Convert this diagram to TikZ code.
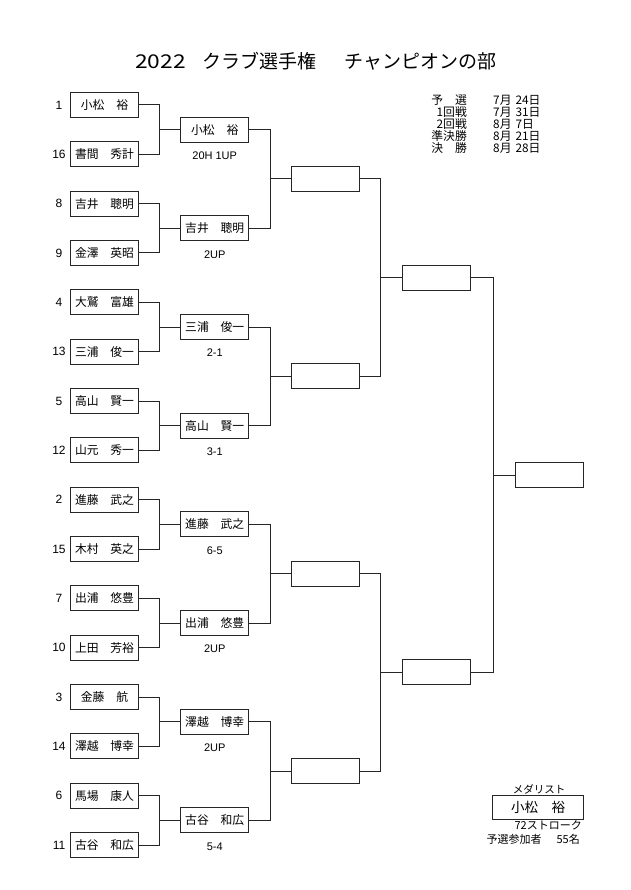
\documentclass[tikz,border=0pt]{standalone}
\usepackage{fontspec}
\setmainfont{Noto Sans CJK JP}
\newfontfamily\latf{Liberation Sans}
\usetikzlibrary{calc}
\begin{document}
\begin{tikzpicture}[x=1pt,y=-1pt,
  ln/.style={draw=black!85, line width=1pt},
  pbox/.style={draw=black!85, line width=1pt, minimum width=68pt, minimum height=25pt, inner sep=0pt, font=\fontsize{11.8}{12}\selectfont},
  score/.style={font=\latf\fontsize{11}{12}\selectfont, inner sep=0pt},
  seed/.style={font=\latf\fontsize{12}{13}\selectfont, inner sep=0pt},
  sched/.style={font=\fontsize{11.8}{12}\selectfont, inner sep=0pt},
  small/.style={font=\fontsize{11}{12}\selectfont, inner sep=0pt}]
\fill[white] (0,0) rectangle (630,890);
\useasboundingbox (0,0) rectangle (630,890);

% title
\node[inner sep=0pt, font=\fontsize{19}{20}\selectfont] (title) at (316,61)
  {\scalebox{1.2}[1]{2022}\hspace{17pt}クラブ選手権\hspace{28pt}チャンピオンの部};

% round 1
\foreach \i/\s/\nm in {0/1/小松　裕, 1/16/書間　秀計, 2/8/吉井　聰明, 3/9/金澤　英昭,
  4/4/大鷲　富雄, 5/13/三浦　俊一, 6/5/高山　賢一, 7/12/山元　秀一,
  8/2/進藤　武之, 9/15/木村　英之, 10/7/出浦　悠豊, 11/10/上田　芳裕,
  12/3/金藤　航, 13/14/澤越　博幸, 14/6/馬場　康人, 15/11/古谷　和広} {
  \pgfmathsetmacro\yy{105+\i*49.3333}
  \node[pbox] (a\i) at (104.5,\yy) {\nm};
  \node[seed] (n\i) at (59,\yy) {\s};
}

% round 2
\foreach \i/\nm/\sc in {0/小松　裕/20H 1UP, 1/吉井　聰明/2UP, 2/三浦　俊一/2-1, 3/高山　賢一/3-1,
  4/進藤　武之/6-5, 5/出浦　悠豊/2UP, 6/澤越　博幸/2UP, 7/古谷　和広/5-4} {
  \pgfmathsetmacro\yy{129.6667+\i*98.6667}
  \pgfmathtruncatemacro\p{2*\i}
  \pgfmathtruncatemacro\q{2*\i+1}
  \node[pbox] (b\i) at (214.7,\yy) {\nm};
  \node[score] (s\i) at ([yshift=-26pt]b\i.center) {\sc};
  \coordinate (jb\i) at (159,\yy);
  \draw[ln] (a\p.east) -| (jb\i) -- (b\i.west);
  \draw[ln] (a\q.east) -| (jb\i);
}

% round 3
\foreach \i in {0,...,3} {
  \pgfmathsetmacro\yy{179+\i*197.3333}
  \pgfmathtruncatemacro\p{2*\i}
  \pgfmathtruncatemacro\q{2*\i+1}
  \node[pbox] (c\i) at (325,\yy) {};
  \coordinate (jc\i) at (270,\yy);
  \draw[ln] (b\p.east) -| (jc\i) -- (c\i.west);
  \draw[ln] (b\q.east) -| (jc\i);
}

% semifinal
\foreach \i in {0,1} {
  \pgfmathsetmacro\yy{277.6667+\i*394.6667}
  \pgfmathtruncatemacro\p{2*\i}
  \pgfmathtruncatemacro\q{2*\i+1}
  \node[pbox] (d\i) at (436,\yy) {};
  \coordinate (jd\i) at (380,\yy);
  \draw[ln] (c\p.east) -| (jd\i) -- (d\i.west);
  \draw[ln] (c\q.east) -| (jd\i);
}

% final
\node[pbox] (f) at (549,475) {};
\coordinate (jf) at (493,475);
\draw[ln] (d0.east) -| (jf) -- (f.west);
\draw[ln] (d1.east) -| (jf);

% schedule
\foreach \i/\lab/\dt in {0/予　選/7月\hspace{4pt}24日, 1/1回戦/7月\hspace{4pt}31日, 2/2回戦/8月\hspace{4pt}7日,
  3/準決勝/8月\hspace{4pt}21日, 4/決　勝/8月\hspace{4pt}28日} {
  \node[sched, anchor=east] (l\i) at (467,100+12*\i) {\lab};
  \node[sched, anchor=west] (t\i) at (493,100+12*\i) {\dt};
}

% medalist
\node[inner sep=0pt, font=\fontsize{10.5}{11}\selectfont] (mlab) at (539,789) {メダリスト};
\node[draw=black!85, line width=1pt, minimum width=90.6pt, minimum height=24.3pt, inner sep=0pt,
  font=\fontsize{13.5}{14}\selectfont] (medal) at (538,807.2) {小松　裕};
\node[small, anchor=east] (stroke) at (582,825) {72ストローク};
\node[small, anchor=east] (entry) at (580,839) {予選参加者\hspace{4pt}　55名};
\end{tikzpicture}
\end{document}
